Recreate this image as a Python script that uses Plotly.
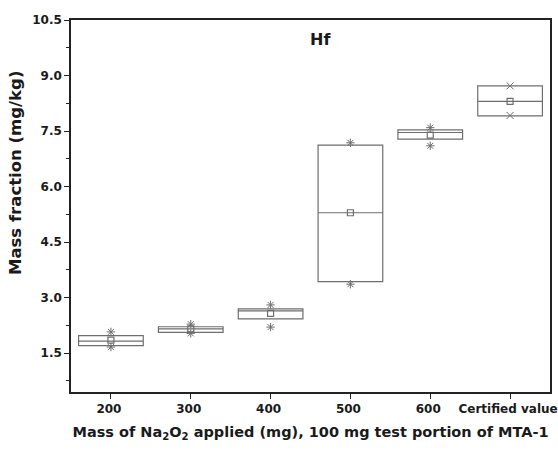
import plotly.graph_objects as go

categories = ["200", "300", "400", "500", "600", "Certified value"]
q1 = [1.70, 2.06, 2.42, 3.43, 7.28, 7.91]
median = [1.82, 2.15, 2.64, 5.29, 7.46, 8.30]
q3 = [1.97, 2.21, 2.69, 7.12, 7.53, 8.72]
mean = [1.85, 2.15, 2.57, 5.29, 7.39, 8.30]
min_vals = [1.66, 2.03, 2.20, 3.36, 7.10, 7.92]
max_vals = [2.07, 2.28, 2.80, 7.18, 7.59, 8.72]

xi = list(range(len(categories)))
FONT = "DejaVu Sans"
BOX_COL = "#6e6e6e"
AX_COL = "#222222"
TXT = "#1a1a1a"

fig = go.Figure()
fig.add_trace(go.Box(
    x=xi, q1=q1, median=median, q3=q3,
    lowerfence=q1, upperfence=q3,
    width=0.81, whiskerwidth=0,
    fillcolor="white", line=dict(color=BOX_COL, width=1.2),
    boxpoints=False, showlegend=False, hoverinfo="skip",
))
fig.add_trace(go.Scatter(
    x=xi, y=mean, mode="markers",
    marker=dict(symbol="square-open", size=6, color=BOX_COL, line=dict(width=1.2)),
    showlegend=False,
))
star_sym = ["asterisk-open"] * 5 + ["x-thin-open"]
fig.add_trace(go.Scatter(
    x=xi + xi, y=min_vals + max_vals, mode="markers",
    marker=dict(symbol=star_sym + star_sym, size=7, color=BOX_COL,
                line=dict(width=1, color=BOX_COL)),
    showlegend=False,
))

# panel label
fig.add_annotation(x=(320 - 71) / (550 - 71), y=(392 - 40) / 372, xref="paper", yref="paper",
                   text="Hf", showarrow=False, xanchor="center", yanchor="middle",
                   font=dict(family=FONT, size=16, color=TXT, weight="bold"))
# y axis title (placed as in the reference, above centre)
fig.add_annotation(x=(15 - 71) / (550 - 71), y=(392 - 173) / 372, xref="paper", yref="paper",
                   text="Mass fraction (mg/kg)", showarrow=False, textangle=-90,
                   xanchor="center", yanchor="middle",
                   font=dict(family=FONT, size=16.5, color=TXT, weight="bold"))

fig.update_layout(
    width=558, height=452,
    margin=dict(l=71, r=8, t=20, b=60, autoexpand=False),
    paper_bgcolor="white", plot_bgcolor="white",
    font=dict(family=FONT, color=TXT),
    xaxis=dict(
        range=[-0.5, 5.5], tickmode="array", tickvals=xi, ticktext=categories,
        ticks="outside", ticklen=5, tickwidth=1.2, tickcolor=AX_COL,
        showline=True, linecolor=AX_COL, linewidth=1.5, mirror=True,
        showgrid=False, zeroline=False, automargin=False,
        ticklabeloverflow="allow", ticklabelshift=-2,
        tickfont=dict(family=FONT, size=12, weight="bold", color=TXT),
        title=dict(text="Mass of Na<sub>2</sub>O<sub>2</sub> applied (mg), 100 mg test portion of MTA-1",
                   font=dict(family=FONT, size=14.5, weight="bold", color=TXT), standoff=12),
    ),
    yaxis=dict(
        range=[0.446, 10.5], tick0=1.5, dtick=1.5, tickformat=".1f",
        ticks="outside", ticklen=5, tickwidth=1.2, tickcolor=AX_COL,
        minor=dict(dtick=0.75, tick0=0.75, ticks="outside", ticklen=3, tickcolor=AX_COL, showgrid=False),
        showline=True, linecolor=AX_COL, linewidth=1.5, mirror=True,
        showgrid=False, zeroline=False, automargin=False,
        tickfont=dict(family=FONT, size=12, weight="bold", color=TXT),
    ),
)

fig.write_html("out.html")
